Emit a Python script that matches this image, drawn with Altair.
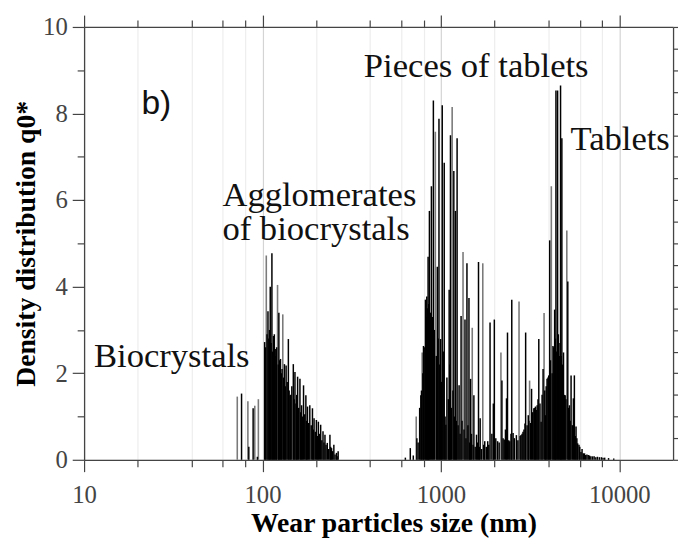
import altair as alt
import pandas as pd

# ---------------- data ----------------
# gray spikes
gray_size = [72.2, 82.8, 90.5, 94.8, 105.0, 121.4, 129.9,
             727, 785, 930.5, 1156, 1330, 1498, 1716,
             2169, 2740, 3140, 3785, 4157, 5076]
gray_q = [1.46, 1.35, 1.25, 1.40, 4.72, 4.04, 3.36,
          1.00, 2.48, 7.58, 8.15, 4.80, 3.05, 4.54,
          2.48, 3.66, 1.83, 3.39, 6.32, 5.30]

# black spikes (main)
black_size = [76.3, 83.8, 88.6, 93.6, 102.8, 107.3, 110.5, 112.9, 115.3, 117.8,
              123.5, 126.1, 132.7, 135.6, 139.6, 142.6, 148.8, 152.0, 157.3, 162.1,
              165.6, 169.8, 175.0, 178.7, 184.1, 190.5, 194.5, 200.4, 205.6, 211.8,
              218.3, 223.9, 230.7, 238.7, 243.8, 251.1, 259.8, 265.4,
              631.9, 673.4, 733, 771.7, 798.5, 818.9, 833, 847.3, 861.9, 884.2,
              907.1, 954.3, 975, 995.9, 1017, 1043.5, 1066, 1112, 1131, 1181,
              1206, 1232, 1264, 1297, 1364, 1399, 1436, 1466, 1530, 1583,
              1624, 1659, 1760, 1829,
              1885, 1967, 1992, 2078, 2197, 2263, 2331, 2361, 2432, 2495,
              2538, 2648, 2811, 2884, 2958, 2984, 3087, 3221, 3318, 3388,
              3462, 3536, 3643, 3737, 3850, 3933, 4018, 4069, 4246, 4338,
              4412, 4507, 4603, 4682, 4762, 4864, 4969, 5141, 5251, 5363,
              5526, 5596, 5717, 5840, 5940, 6094, 6278, 6467, 6691, 6922,
              7222, 7537, 7933, 8275]
black_q = [1.53, 0.30, 1.19, 0.07, 2.72, 3.43, 4.00, 4.77, 2.86, 2.56,
           3.40, 2.33, 2.21, 2.18, 2.79, 1.49, 2.21, 2.03, 1.92, 1.87,
           1.26, 1.72, 1.49, 1.23, 1.26, 1.19, 0.96, 0.92, 0.88, 0.81,
           0.66, 0.58, 0.39, 0.58, 0.27, 0.35, 0.16, 0.20,
           0.05, 0.27, 0.50, 1.49, 2.63, 3.70, 3.77, 4.69, 5.75, 6.32,
           8.30, 4.46, 7.88, 2.79, 8.19, 6.86, 0.81, 3.93, 7.50, 6.67,
           5.75, 7.43, 1.72, 3.32, 3.24, 4.54, 3.74, 1.87, 1.49, 0.58,
           4.57, 0.96, 0.43, 0.43,
           3.17, 1.30, 3.24, 0.43, 1.83, 0.47, 1.42, 2.94, 0.43, 3.70,
           0.62, 0.57, 0.57, 0.65, 0.84, 2.94, 1.03, 1.64, 1.19, 1.23,
           1.26, 2.79, 0.88, 2.10, 1.03, 1.87, 1.95, 5.07, 2.63, 3.47,
           8.53, 8.53, 2.40, 8.65, 7.43, 2.48, 1.49, 4.12, 1.26, 1.95,
           1.42, 1.95, 0.77, 0.38, 0.35, 0.18, 0.15, 0.11, 0.11, 0.08,
           0.08, 0.07, 0.06, 0.05]

# black spikes (dense lower forest between the main spikes)
fill_size = [104, 106, 108.5, 109.5, 111.7, 114, 116.5, 119, 120, 122.5,
             124.8, 127.5, 128.7, 131.3, 134.1, 137.5, 141, 144, 146, 150.5,
             154, 155.5, 159.5, 163.8, 167.7, 172.5, 176.8, 181.4, 187.5, 192.5,
             197.5, 203, 208.5, 215, 221, 227, 235, 241, 247, 255, 262,
             700, 745, 760, 778, 792, 806, 825, 840, 854, 873,
             895, 918, 942, 965, 985, 1006, 1030, 1055, 1080, 1100,
             1121, 1143, 1168, 1193, 1219, 1248, 1280, 1313, 1347, 1381,
             1417, 1450, 1482, 1514, 1556, 1600, 1640, 1690, 1738, 1795, 1855,
             1930, 2030, 2120, 2230, 2300, 2400, 2470, 2580, 2700, 2780,
             2850, 2920, 3040, 3110, 3180, 3270, 3350, 3420, 3500, 3590,
             3690, 3820, 3890, 3980, 4110, 4200, 4290, 4380, 4460, 4550,
             4650, 4720, 4810, 4920, 5020, 5190, 5300, 5450, 5660, 5780,
             6000, 6180, 6380, 6580, 6800, 7070, 7380, 7730, 8100, 8700, 9300]
fill_q = [2.6, 2.9, 2.8, 3.0, 2.7, 2.5, 2.9, 2.4, 2.6, 2.2,
          2.3, 2.0, 2.1, 1.9, 1.7, 1.8, 1.6, 1.5, 1.7, 1.4,
          1.3, 1.5, 1.2, 1.1, 1.0, 1.05, 0.9, 0.85, 0.8, 0.7,
          0.65, 0.55, 0.6, 0.45, 0.4, 0.35, 0.25, 0.3, 0.2, 0.12, 0.08,
          0.1, 0.4, 1.2, 1.6, 2.0, 2.6, 3.3, 3.5, 3.6, 3.4,
          3.3, 3.0, 2.4, 2.8, 2.2, 1.8, 2.5, 1.0, 1.9, 1.4,
          2.2, 1.2, 1.6, 1.0, 0.9, 0.8, 0.6, 0.9, 0.7, 0.5,
          0.8, 0.4, 0.6, 0.35, 0.3, 0.4, 0.3, 0.25, 0.35, 0.3, 0.35,
          0.6, 0.5, 0.4, 0.5, 0.7, 0.45, 0.6, 0.5, 0.45, 0.55,
          0.6, 0.7, 0.8, 0.9, 0.85, 1.1, 1.2, 1.15, 1.4, 1.3,
          1.5, 1.6, 1.7, 1.9, 2.3, 2.0, 2.6, 2.8, 2.5, 2.9,
          2.7, 2.4, 2.2, 1.5, 1.4, 1.2, 0.9, 0.8, 0.55, 0.5,
          0.3, 0.25, 0.15, 0.12, 0.1, 0.08, 0.06, 0.06, 0.05, 0.04, 0.03]

# annotations
label_text = ["Biocrystals", "Agglomerates", "of biocrystals", "Pieces of tablets", "Tablets"]
label_x = [11.36, 59.6, 59.6, 369.8, 5319]
label_y = [2.15, 5.87, 5.07, 8.85, 7.15]
panel_text = ["b)"]
panel_x = [20.96]
panel_y = [7.99]

x_ticks = [10, 20, 40, 60, 80, 100, 200, 400, 600, 800,
           1000, 2000, 4000, 6000, 8000, 10000]
y_ticks = [0, 0.5, 1, 1.5, 2, 2.5, 3, 3.5, 4, 4.5, 5, 5.5, 6, 6.5, 7, 7.5,
           8, 8.5, 9, 9.5, 10]

# ---------------- chart ----------------
gray_df = pd.DataFrame({"size": gray_size, "q": gray_q})
black_df = pd.DataFrame({"size": black_size + fill_size, "q": black_q + fill_q})
label_df = pd.DataFrame({"x": label_x, "y": label_y, "t": label_text})
panel_df = pd.DataFrame({"x": panel_x, "y": panel_y, "t": panel_text})

SERIF = "Liberation Serif"
AXC = "#444444"
xscale = alt.Scale(type="log", domain=[10, 20000], nice=False)
yscale = alt.Scale(domain=[0, 10], nice=False, zero=True)

major_x = "indexof([10,100,1000,10000], datum.value) >= 0"
major_y = "datum.value % 2 == 0"

x_bottom = alt.Axis(
    orient="bottom", values=x_ticks, format="d",
    labelExpr=f"{major_x} ? datum.label : ''",
    labelFont=SERIF, labelFontSize=25, labelColor=AXC, labelPadding=11,
    labelOverlap=False, labelFlush=False,
    tickSize={"condition": {"test": major_x, "value": 12}, "value": 7},
    tickColor=AXC, tickWidth=1.2, domainColor=AXC, domainWidth=1.3,
    grid=True,
    gridColor={"condition": {"test": "indexof([100,1000,10000], datum.value) >= 0",
                             "value": "#d4d4d4"}, "value": "#ededed"},
    gridWidth=1.2,
    title="Wear particles size (nm)", titleFont=SERIF, titleFontSize=28,
    titleFontWeight="bold", titleColor="black",
    titleX=313, titleY=73, titleAlign="center", titleBaseline="alphabetic",
)
y_left = alt.Axis(
    orient="left", values=y_ticks, format="d",
    labelExpr=f"{major_y} ? datum.label : ''",
    labelFont=SERIF, labelFontSize=25, labelColor=AXC, labelPadding=5,
    labelOverlap=False, labelFlush=False,
    tickSize={"condition": {"test": major_y, "value": 12}, "value": 7},
    tickColor=AXC, tickWidth=1.2, domainColor=AXC, domainWidth=1.3,
    grid=False,
    title="Density distribution q0*", titleFont=SERIF, titleFontSize=28,
    titleFontWeight="bold", titleColor="black",
    titleX=-58, titleY=219, titleAngle=270, titleAlign="center",
    titleBaseline="middle",
)
x_top = alt.Axis(
    orient="top", values=x_ticks, labels=False, grid=False,
    tickSize={"condition": {"test": major_x, "value": 12}, "value": 7},
    tickColor=AXC, tickWidth=1.2, domainColor=AXC, domainWidth=1.3, title="",
)
y_right = alt.Axis(
    orient="right", values=y_ticks, labels=False, grid=False,
    tickSize={"condition": {"test": major_y, "value": 12}, "value": 7},
    tickColor=AXC, tickWidth=1.2, domainColor=AXC, domainWidth=1.3, title="",
)

gray_layer = alt.Chart(gray_df).mark_rule(color="#7a7a7a", strokeWidth=1.6).encode(
    x=alt.X("size:Q", scale=xscale, axis=x_top),
    y=alt.Y("q:Q", scale=yscale, axis=y_right),
    y2=alt.datum(0),
)
black_layer = alt.Chart(black_df).mark_rule(color="#000000", strokeWidth=1.5).encode(
    x=alt.X("size:Q", scale=xscale, axis=x_bottom),
    y=alt.Y("q:Q", scale=yscale, axis=y_left),
    y2=alt.datum(0),
)
label_layer = alt.Chart(label_df).mark_text(
    font=SERIF, fontSize=35, color="#111111", align="left", baseline="alphabetic"
).encode(
    x=alt.X("x:Q", scale=xscale, axis=None),
    y=alt.Y("y:Q", scale=yscale, axis=None),
    text="t:N",
)
panel_layer = alt.Chart(panel_df).mark_text(
    font="Liberation Sans", fontSize=34, color="#111111", align="left", baseline="alphabetic"
).encode(
    x=alt.X("x:Q", scale=xscale, axis=None),
    y=alt.Y("y:Q", scale=yscale, axis=None),
    text="t:N",
)

chart = alt.layer(gray_layer, black_layer, label_layer, panel_layer).resolve_axis(
    x="independent", y="independent"
).properties(
    width=596, height=438,
    padding={"left": 77, "top": 16, "right": 5, "bottom": 80},
    autosize=alt.AutoSizeParams(type="none"),
).configure_view(stroke=AXC, strokeWidth=1.3).configure(background="white")

chart.save("out.html", embed_options={"renderer": "svg", "actions": False})
